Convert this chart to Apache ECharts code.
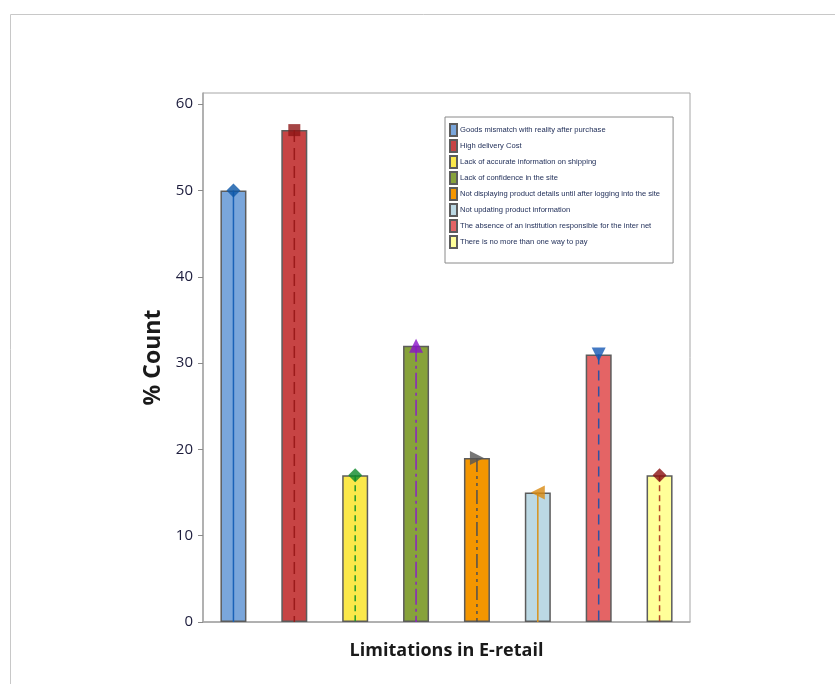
<!DOCTYPE html>
<html>
<head>
<meta charset="utf-8">
<script src="https://cdn.jsdelivr.net/npm/echarts@6/dist/echarts.min.js"></script>
<style>
  html, body { margin: 0; padding: 0; background: #fff; }
  #chart { width: 835px; height: 684px; }
</style>
</head>
<body>
<div id="chart"></div>
<script>
// categories and values
const categories = [
    'Goods mismatch with reality after purchase',
    'High delivery Cost',
    'Lack of accurate information on shipping',
    'Lack of confidence in the site',
    'Not displaying product details until after logging into the site',
    'Not updating product information',
    'The absence of an institution responsible for the inter net',
    'There is no more than one way to pay'
];
const counts = [50, 57, 17, 32, 19, 15, 31, 17];
const yTicks = [0, 10, 20, 30, 40, 50, 60];

// look of each bar / drop line / marker
const barColors = ['#7aa6db', '#c74444', '#fbe84a', '#87a23a', '#f49600', '#bcd9e4', '#e46465', '#ffff99'];
const lineColors = ['#1a62b8', '#9c1a1a', '#1f9a2a', '#8b22c4', '#505050', '#d8921c', '#2f52a4', '#b5482a'];
const lineDashes = [null, [12, 6], [6, 4], [16, 4, 3, 4], [14, 4, 3, 4, 3, 4], null, [10, 6], [6, 4]];
const markerColors = ['#0b56a8', '#8e1616', '#0c8a2a', '#8a14c8', '#555555', '#d88a10', '#1457b4', '#8b1010'];
const markerSymbols = ['diamond', 'rect', 'diamond', 'triangle', 'triangle', 'triangle', 'triangle', 'diamond'];
const markerRotate = [0, 0, 0, 0, -90, 90, 180, 0];

// one stacked series per category so each gets a legend entry
const barSeries = categories.map((name, i) => ({
    name: name,
    type: 'bar',
    stack: 'all',
    barWidth: 26,
    data: counts.map((v, j) => (j === i ? v : '-')),
    itemStyle: { color: barColors[i], borderColor: '#5c5c5c', borderWidth: 1.5 },
    emphasis: { disabled: true }
}));

const dropLines = {
    type: 'custom',
    z: 5,
    data: counts.map((v, i) => [i, v]),
    renderItem: function (params, api) {
        const i = params.dataIndex;
        const top = api.coord([api.value(0), api.value(1)]);
        const bottom = api.coord([api.value(0), 0]);
        return {
            type: 'line',
            shape: { x1: top[0], y1: top[1], x2: bottom[0], y2: bottom[1] },
            style: { stroke: lineColors[i], lineWidth: 1.5, lineDash: lineDashes[i] }
        };
    }
};

const markers = {
    type: 'scatter',
    z: 6,
    data: counts.map((v, i) => ({
        value: [i, v],
        symbol: markerSymbols[i],
        symbolRotate: markerRotate[i],
        symbolSize: markerSymbols[i] === 'rect' ? 12 : 14,
        itemStyle: { color: markerColors[i] }
    }))
};

const chart = echarts.init(document.getElementById('chart'));
chart.setOption({
    animation: false,
    graphic: [{
        type: 'rect',
        shape: { x: 10.5, y: 14.5, width: 900, height: 800 },
        style: { fill: 'none', stroke: '#c8c8c8', lineWidth: 1 },
        silent: true
    }],
    grid: {
        left: 203, top: 93, right: 145, bottom: 62,
        show: true, borderColor: '#a6a6a6', borderWidth: 1
    },
    legend: {
        data: categories,
        orient: 'vertical',
        left: 445,
        top: 117,
        itemWidth: 7,
        itemHeight: 12,
        itemGap: 2,
        padding: [6, 13, 14, 4],
        backgroundColor: '#fff',
        borderColor: '#8a8a8a',
        borderWidth: 1,
        icon: 'rect',
        selectedMode: false,
        textStyle: { fontFamily: 'Liberation Sans', fontSize: 7.6, color: '#22305a', padding: [0, 0, 0, -2] }
    },
    xAxis: {
        type: 'category',
        data: categories,
        name: 'Limitations in E-retail',
        nameLocation: 'middle',
        nameGap: 20,
        nameTextStyle: { fontFamily: 'Open Sans', fontWeight: 'bold', fontSize: 18, color: '#1a1a1a' },
        axisLine: { lineStyle: { color: '#a6a6a6', width: 1.5 } },
        axisTick: { alignWithLabel: true, length: 5, lineStyle: { color: '#8a8a8a' } },
        axisLabel: { show: false }
    },
    yAxis: {
        type: 'value',
        min: 0,
        max: 61.3,
        interval: 10,
        name: '% Count',
        nameLocation: 'middle',
        nameGap: 38,
        nameTextStyle: { fontFamily: 'Open Sans', fontWeight: 'bold', fontSize: 23, color: '#1a1a1a' },
        splitLine: { show: false },
        axisLine: { show: true, lineStyle: { color: '#a6a6a6', width: 1.5 } },
        axisTick: { show: true, length: 5, customValues: yTicks, lineStyle: { color: '#8a8a8a' } },
        axisLabel: {
            customValues: yTicks,
            margin: 10,
            fontFamily: 'Open Sans',
            fontSize: 15,
            fontWeight: 500,
            color: '#1c1c3c'
        }
    },
    series: barSeries.concat([dropLines, markers])
});
</script>
</body>
</html>
